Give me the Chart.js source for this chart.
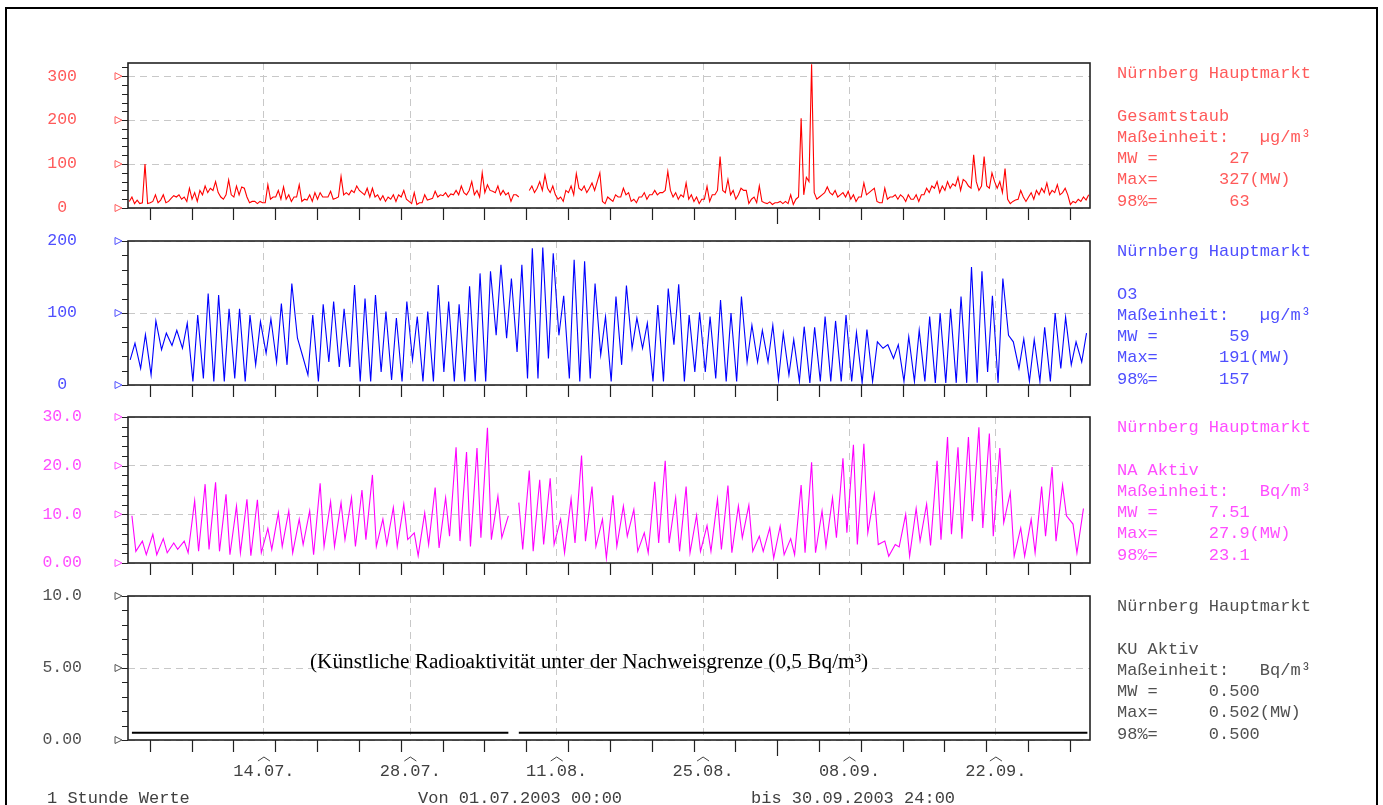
<!DOCTYPE html>
<html>
<head>
<meta charset="utf-8">
<title>Nürnberg Hauptmarkt 07-09/2003</title>
<script src="https://cdn.jsdelivr.net/npm/chart.js@4.4.1/dist/chart.umd.min.js"></script>
<style>
  html, body { margin: 0; padding: 0; background: #fff; }
  body { width: 1383px; height: 805px; position: relative; overflow: hidden; }
  #frame { position: absolute; left: 5px; top: 7px; width: 1369px; height: 900px; border: 2px solid #000; }
  canvas { position: absolute; left: 0; }
  .info { position: absolute; left: 1117px; font: 17px 'Courier New', 'Liberation Mono', monospace; line-height: 21.2px; white-space: pre; }
  .foot { position: absolute; top: 789px; font: 17px 'Courier New', 'Liberation Mono', monospace; line-height: 20px; white-space: pre; color: #404040; }
  #note { position: absolute; left: 310px; top: 649px; font: 21.3px 'Times New Roman', 'Liberation Serif', serif; white-space: pre; color: #000; }
</style>
</head>
<body>
<div id="frame"></div>

<script>
// 01.07.2003 00:00 .. 30.09.2003 24:00, x in hours
const days = 92;
const xLabelDays = [13, 27, 41, 55, 69, 83];
const xLabels = ['14.07.', '28.07.', '11.08.', '25.08.', '08.09.', '22.09.'];

// Gesamtstaub, 4 samples per day (03, 09, 15, 21 h)
const dustHours = [3, 9, 15, 21];
const dust = [
  15,25,10,18, 10,12,100,10, 12,15,30,12, 18,30,12,15, 22,28,25,30, 20,25,15,45, 20,35,15,40,
  30,50,35,45, 40,60,35,25, 20,30,64,30, 25,50,30,48, 45,25,12,15, 15,10,15,12, 12,53,20,25,
  25,40,20,48, 20,30,15,25, 25,53,15,20, 18,30,15,35, 20,35,25,25, 25,38,20,22, 25,72,30,35,
  30,40,35,50, 40,35,30,45, 25,45,25,30, 18,28,15,25, 20,30,15,30, 25,40,20,15, 10,35,8,12,
  12,30,18,20, 22,38,25,30, 28,35,25,32, 30,40,30,50, 35,30,40,60, 30,40,25,80, 35,53,40,38,
  35,50,30,40, 30,35,15,30, 30,25,null,null, null,40,50,35, 45,60,40,75, 45,35,50,30, 20,25,15,40,
  35,50,30,78, 45,40,50,35, 45,57,40,60, 80,15,10,25, 20,15,30,25, 25,45,30,35, 15,20,12,25,
  25,35,20,30, 30,40,30,35, 35,40,83,40, 25,35,20,30, 25,57,20,30, 15,25,10,20, 20,49,15,30,
  30,40,117,40, 35,65,30,40, 20,30,45,40, 40,10,20,25, 12,50,15,12, 10,14,8,12, 12,15,10,15,
  10,30,8,20, 25,204,30,70, 60,327,35,20, 25,30,35,48, 35,30,40,25, 30,35,25,38, 20,30,15,25,
  25,57,30,35, 40,45,15,12, 12,45,20,25, 25,30,20,30, 25,15,30,20, 20,30,15,30, 30,45,35,50,
  45,60,35,50, 40,60,45,55, 50,70,40,65, 60,50,45,121, 60,40,50,117, 50,45,80,60, 45,60,35,90,
  20,10,15,18, 20,40,25,15, 25,35,20,40, 30,45,35,57, 30,40,35,53, 30,35,45,30, 8,15,12,20,
  15,25,18,30
];

// O3: night minimum (05 h) and afternoon maximum (16 h)
const o3Low = [
  35,23,14,49,55,51,5,9,5,5, 9,5,28,44,32,28,65,14,5,32,
  25,25,5,5,18,7,5,35,5,5, 18,5,5,5,5,69,65,46,9,9,
  37,69,9,5,9,42,5,28,51,51, 5,5,56,5,18,18,9,5,5,32,
  32,32,7,14,5,3,5,5,5,5, 3,5,51,37,5,5,5,3,3,3,
  3,3,18,3,69,23,5,5,5,23, 28,32
];
const o3High = [
  58,70,89,72,76,86,97,127,125,106, 106,97,88,92,113,141,42,97,112,116,
  106,139,120,125,102,93,116,95,102,139, 116,112,137,155,158,167,148,167,190,191,
  183,124,174,172,141,95,123,138,93,86, 111,134,140,97,101,95,118,100,123,83,
  76,83,72,63,81,80,95,89,97,73, 77,60,56,56,67,76,95,100,106,123,
  164,158,124,148,60,64,63,80,100,94, 60,72
];

// NA Aktiv: morning maximum (09 h) and evening minimum (18 h)
const naPeak = [
  9.7,4.5,5.9,5.0,4.1,4.5,12.8,16.2,16.6,14.1, 11.7,13.1,13.0,7.1,10.3,10.7,9.0,10.7,16.4,12.6,
  12.4,13.4,15.0,18.1,9.0,11.4,12.1,6.2,10.3,15.5, 13.4,23.8,22.8,23.6,27.8,13.7,9.7,12.4,19.0,17.1,
  17.4,9.0,13.2,22.1,15.7,9.0,13.9,11.7,11.0,6.2, 16.7,21.0,13.4,15.7,9.8,7.7,13.1,15.9,11.7,11.9,
  5.5,7.2,7.6,5.0,16.0,20.7,10.7,13.4,21.5,24.3, 24.5,14.1,4.5,3.8,10.0,11.2,12.1,21.0,25.9,23.8,
  25.9,27.9,26.6,23.6,14.5,7.2,9.0,15.7,19.7,16.0, 8.0,11.2
];
const naLow = [
  2.4,1.7,1.7,2.1,2.8,2.1,2.4,2.8,2.4,1.7, 2.1,1.5,2.1,2.8,3.4,2.1,3.8,1.7,3.4,3.4,
  4.8,3.4,4.8,3.4,3.8,3.4,4.8,1.5,3.8,3.1, 5.5,4.5,3.4,5.2,4.8,5.2,null,2.8,2.4,3.8,
  3.8,2.1,4.1,4.5,3.4,1.0,3.4,5.5,2.4,2.1, 4.1,4.1,2.4,2.1,2.4,2.4,2.8,2.1,5.2,2.4,
  2.4,1.0,1.7,1.7,2.1,2.1,3.4,5.2,6.2,3.8, 6.2,3.8,1.4,3.3,1.4,4.5,3.6,4.8,5.9,5.0,
  8.6,7.2,5.5,8.3,1.4,1.4,2.1,5.5,4.5,9.7, 2.1,null
];

// KU Aktiv (09 h / 18 h)
const kuMorning = [
  0.5,0.5,0.5,0.5,0.5,0.5,0.5,0.5,0.5,0.5, 0.5,0.5,0.5,0.5,0.5,0.5,0.5,0.5,0.5,0.5,
  0.5,0.5,0.5,0.5,0.5,0.5,0.5,0.5,0.5,0.5, 0.5,0.5,0.5,0.5,0.5,0.5,0.5,0.5,0.5,0.5,
  0.5,0.5,0.5,0.5,0.5,0.5,0.5,0.5,0.5,0.5, 0.5,0.5,0.5,0.5,0.5,0.5,0.5,0.5,0.5,0.5,
  0.5,0.5,0.5,0.5,0.502,0.5,0.5,0.5,0.5,0.5, 0.5,0.5,0.5,0.5,0.5,0.5,0.5,0.5,0.5,0.5,
  0.5,0.5,0.5,0.5,0.5,0.5,0.5,0.5,0.5,0.5, 0.5,0.5
];
const kuEvening = [
  0.5,0.5,0.5,0.5,0.5,0.5,0.5,0.5,0.5,0.5, 0.5,0.5,0.5,0.5,0.5,0.5,0.5,0.5,0.5,0.5,
  0.5,0.5,0.5,0.5,0.5,0.5,0.5,0.5,0.5,0.5, 0.5,0.5,0.5,0.5,0.5,0.5,null,0.5,0.5,0.5,
  0.5,0.5,0.5,0.5,0.5,0.5,0.5,0.5,0.5,0.5, 0.5,0.5,0.5,0.5,0.5,0.5,0.5,0.5,0.5,0.5,
  0.5,0.5,0.5,0.5,0.5,0.5,0.5,0.5,0.5,0.5, 0.5,0.5,0.5,0.5,0.5,0.5,0.5,0.5,0.5,0.5,
  0.5,0.5,0.5,0.5,0.5,0.5,0.5,0.5,0.5,0.5, 0.5,0.5
];

// y ticks
const dustTicks = [0, 100, 200, 300];
const dustTickLabels = ['0', '100', '200', '300'];
const o3Ticks = [0, 100, 200];
const o3TickLabels = ['0', '100', '200'];
const naTicks = [0, 10, 20, 30];
const naTickLabels = ['0.00', '10.0', '20.0', '30.0'];
const kuTicks = [0, 5, 10];
const kuTickLabels = ['0.00', '5.00', '10.0'];

// text blocks on the right
const dustInfo = ['Nürnberg Hauptmarkt', '', 'Gesamtstaub', 'Maßeinheit:   µg/m³', 'MW =       27', 'Max=      327(MW)', '98%=       63'];
const o3Info = ['Nürnberg Hauptmarkt', '', 'O3', 'Maßeinheit:   µg/m³', 'MW =       59', 'Max=      191(MW)', '98%=      157'];
const naInfo = ['Nürnberg Hauptmarkt', '', 'NA Aktiv', 'Maßeinheit:   Bq/m³', 'MW =     7.51', 'Max=     27.9(MW)', '98%=     23.1'];
const kuInfo = ['Nürnberg Hauptmarkt', '', 'KU Aktiv', 'Maßeinheit:   Bq/m³', 'MW =     0.500', 'Max=     0.502(MW)', '98%=     0.500'];

const footTexts = ['1 Stunde Werte', 'Von 01.07.2003 00:00', 'bis 30.09.2003 24:00'];
const noteText = '(Künstliche Radioaktivität unter der Nachweisgrenze (0,5 Bq/m³)';

// ---------------------------------------------------------------

const MONO = "'Courier New', 'Liberation Mono', monospace";
const tickStartHour = 50, tickStepHours = 96;

function pairPoints(first, firstHour, second, secondHour) {
  const pts = [];
  for (let d = 0; d < days; d++) {
    pts.push({ x: d * 24 + firstHour, y: first[d] });
    pts.push({ x: d * 24 + secondHour, y: second[d] });
  }
  return pts;
}
const dustPoints = dust.map((v, i) => ({ x: Math.floor(i / 4) * 24 + dustHours[i % 4], y: v }));

// frame, minor ticks, markers and day ticks
const decor = {
  id: 'decor',
  afterDraw(chart, args, opts) {
    const { ctx, chartArea: a, scales: { x, y } } = chart;
    ctx.save();
    ctx.strokeStyle = '#222';
    ctx.lineWidth = 1.2;
    ctx.beginPath();
    const n = Math.floor((y.max - y.min) / opts.minorStep + 1e-6);
    for (let i = 0; i <= n; i++) {
      const py = Math.round(y.getPixelForValue(y.min + i * opts.minorStep)) + 0.5;
      ctx.moveTo(a.left - 6, py);
      ctx.lineTo(a.left, py);
    }
    for (let h = tickStartHour, k = 0; h < days * 24; h += tickStepHours, k++) {
      const px = Math.round(x.getPixelForValue(h)) + 0.5;
      ctx.moveTo(px, a.bottom);
      ctx.lineTo(px, a.bottom + (k === 15 ? 16 : 12));
    }
    ctx.stroke();

    ctx.strokeStyle = opts.color;
    ctx.lineWidth = 1;
    y.ticks.forEach(t => {
      const py = y.getPixelForValue(t.value);
      ctx.beginPath();
      ctx.moveTo(a.left - 13, py - 3.5);
      ctx.lineTo(a.left - 6, py);
      ctx.lineTo(a.left - 13, py + 3.5);
      ctx.closePath();
      ctx.stroke();
    });

    if (opts.carets) {
      ctx.strokeStyle = '#404040';
      x.ticks.forEach(t => {
        const px = x.getPixelForValue(t.value);
        ctx.beginPath();
        ctx.moveTo(px - 6, a.bottom + 21);
        ctx.lineTo(px, a.bottom + 17);
        ctx.lineTo(px + 6, a.bottom + 21);
        ctx.stroke();
      });
    }

    ctx.strokeStyle = '#222';
    ctx.lineWidth = 1.6;
    ctx.strokeRect(a.left, a.top, a.right - a.left, a.bottom - a.top);
    ctx.restore();
  }
};

const panels = [
  { top: 63, bottom: 208, max: 330, minor: 20, ticks: dustTicks, labels: dustTickLabels, offset: 51,
    color: '#ff5a5a', line: '#ff0000', width: 1.1, data: dustPoints, info: dustInfo },
  { top: 241, bottom: 385, max: 200, minor: 20, ticks: o3Ticks, labels: o3TickLabels, offset: 51,
    color: '#4f4fff', line: '#0000ff', width: 1.1, data: pairPoints(o3Low, 5, o3High, 16), info: o3Info },
  { top: 417, bottom: 563, max: 30, minor: 2, ticks: naTicks, labels: naTickLabels, offset: 46,
    color: '#ff4dff', line: '#ff00ff', width: 1.1, data: pairPoints(naPeak, 9, naLow, 18), info: naInfo },
  { top: 596, bottom: 740, max: 10, minor: 1, ticks: kuTicks, labels: kuTickLabels, offset: 46,
    color: '#505050', line: '#000000', width: 2, data: pairPoints(kuMorning, 9, kuEvening, 18), info: kuInfo, last: true }
];

panels.forEach(p => {
  const axisH = p.last ? 50 : 0;
  const bottomPad = p.last ? 0 : 24;
  const canvas = document.createElement('canvas');
  canvas.width = 1383;
  canvas.height = (p.bottom - p.top) + 20 + axisH + bottomPad;
  canvas.style.top = (p.top - 20) + 'px';
  document.body.appendChild(canvas);

  new Chart(canvas, {
    type: 'line',
    data: {
      datasets: [{
        data: p.data,
        borderColor: p.line,
        borderWidth: p.width,
        pointRadius: 0,
        tension: 0,
        spanGaps: false,
        fill: false
      }]
    },
    options: {
      responsive: false,
      animation: false,
      devicePixelRatio: 1,
      layout: { padding: { left: 0, right: 293, top: 20, bottom: bottomPad } },
      plugins: {
        legend: { display: false },
        tooltip: { enabled: false },
        decor: { color: p.color, minorStep: p.minor, carets: !!p.last }
      },
      scales: {
        x: {
          type: 'linear',
          min: 0,
          max: days * 24,
          afterBuildTicks: s => { s.ticks = xLabelDays.map(d => ({ value: d * 24 })); },
          afterFit: s => { s.height = axisH; },
          grid: { color: '#c8c8c8', lineWidth: 1, drawTicks: false },
          border: { display: false, dash: [7, 5] },
          ticks: {
            display: !!p.last,
            autoSkip: false,
            maxRotation: 0,
            padding: 21.5,
            color: '#404040',
            font: { family: MONO, size: 17 },
            callback: (v, i) => xLabels[i]
          }
        },
        y: {
          min: 0,
          max: p.max,
          afterBuildTicks: s => { s.ticks = p.ticks.map(v => ({ value: v })); },
          afterFit: s => { s.width = 128; },
          // invisible tick marks push the centred labels away from the axis
          grid: { color: '#c8c8c8', lineWidth: 1, drawTicks: true, tickLength: p.offset, tickColor: 'rgba(0,0,0,0)' },
          border: { display: false, dash: [7, 5] },
          ticks: {
            crossAlign: 'center',
            padding: 0,
            color: p.color,
            font: { family: MONO, size: 16.5 },
            callback: (v, i) => p.labels[i]
          }
        }
      }
    },
    plugins: [decor]
  });

  const info = document.createElement('div');
  info.className = 'info';
  info.style.top = (p.top + 11 - 10.6) + 'px';
  info.style.color = p.color;
  info.textContent = p.info.join('\n');
  document.body.appendChild(info);
});

const footLeft = [47, 418, 751];
footTexts.forEach((t, i) => {
  const el = document.createElement('div');
  el.className = 'foot';
  el.style.left = footLeft[i] + 'px';
  el.textContent = t;
  document.body.appendChild(el);
});

const note = document.createElement('div');
note.id = 'note';
note.textContent = noteText;
document.body.appendChild(note);
</script>
</body>
</html>
